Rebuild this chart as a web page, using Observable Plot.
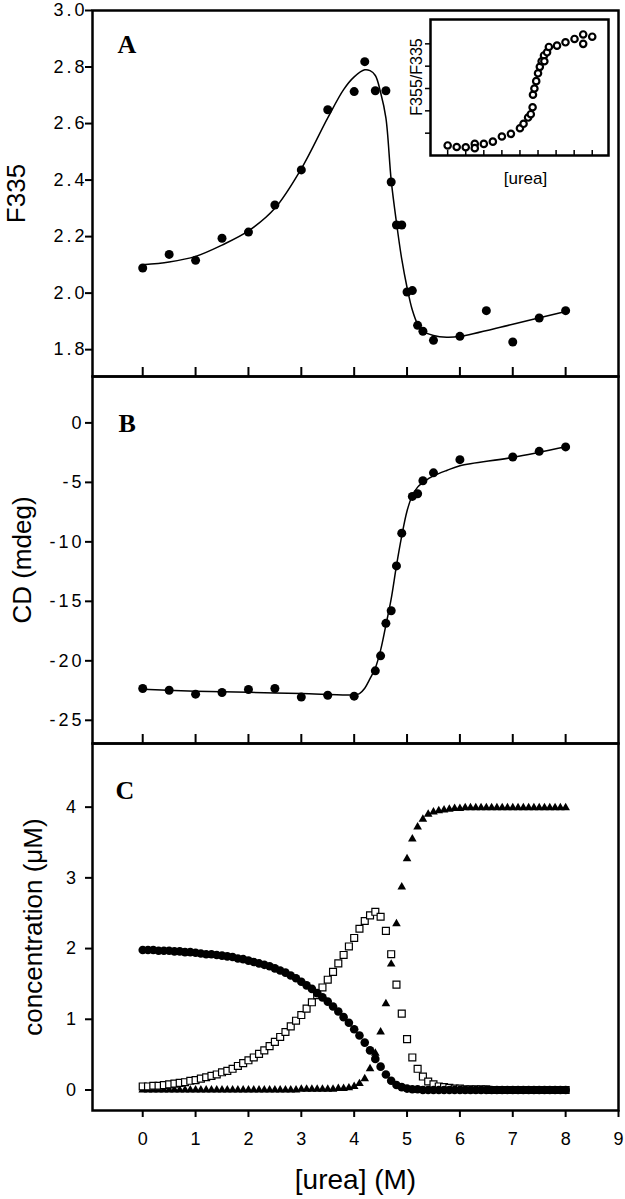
<!DOCTYPE html>
<html>
<head>
<meta charset="utf-8">
<script src="https://cdn.jsdelivr.net/npm/d3@7"></script>
<script src="https://cdn.jsdelivr.net/npm/@observablehq/plot@0.6"></script>
<style>
html, body { margin: 0; padding: 0; background: #fff; }
#wrap { position: relative; width: 625px; height: 1199px; overflow: hidden; background: #fff; }
g[aria-label="y-axis tick label"] text { letter-spacing: 3px; }
g[aria-label="y-title"] text { letter-spacing: 2.5px; }
g[aria-label="x-title"] text { letter-spacing: 1.5px; }
</style>
</head>
<body>
<div id="wrap"></div>
<script>
// ---------- data ----------
// Panel A: F335 vs [urea]
const aX = [0, 0.5, 1, 1.5, 2, 2.5, 3, 3.5, 4, 4.2, 4.4, 4.6, 4.7, 4.8, 4.9, 5.0, 5.1, 5.2, 5.3, 5.5, 6, 6.5, 7, 7.5, 8];
const aY = [2.089, 2.137, 2.116, 2.194, 2.216, 2.312, 2.436, 2.649, 2.713, 2.819, 2.716, 2.716, 2.393, 2.241, 2.241, 2.004, 2.009, 1.886, 1.865, 1.833, 1.847, 1.938, 1.827, 1.912, 1.938];
const aFitX = [0, 0.5, 1, 1.5, 2, 2.5, 3, 3.5, 3.8, 4.0, 4.2, 4.3, 4.4, 4.5, 4.6, 4.7, 4.8, 4.9, 5.0, 5.1, 5.2, 5.3, 5.5, 5.75, 6, 7, 8];
const aFitY = [2.10, 2.11, 2.13, 2.17, 2.22, 2.30, 2.44, 2.62, 2.72, 2.765, 2.79, 2.787, 2.77, 2.71, 2.62, 2.40, 2.25, 2.12, 2.02, 1.94, 1.89, 1.865, 1.85, 1.844, 1.847, 1.89, 1.935];
const aYTicks = [1.8, 2.0, 2.2, 2.4, 2.6, 2.8, 3.0];

// Inset: F355/F335 vs [urea] (tick units)
const insX = [0, 0.5, 1.0, 1.5, 1.5, 2.0, 2.5, 3.0, 3.5, 4.0, 4.2, 4.45, 4.6, 4.7, 4.72, 4.8, 4.9, 5.0, 5.1, 5.2, 5.33, 5.35, 5.5, 5.6, 6.05, 6.52, 7.02, 7.5, 7.5, 8.0];
const insY = [0.45, 0.38, 0.37, 0.52, 0.33, 0.52, 0.62, 0.85, 0.97, 1.22, 1.42, 1.70, 1.85, 2.16, 2.72, 3.0, 3.33, 3.68, 3.97, 4.22, 4.48, 4.22, 4.62, 4.86, 4.92, 5.07, 5.22, 5.42, 5.0, 5.32];
const insXTicks = [0, 1, 2, 3, 4, 5, 6, 7, 8];
const insYTicks = [1, 2, 3, 4, 5];

// Panel B: CD vs [urea]
const bX = [0, 0.5, 1, 1.5, 2, 2.5, 3, 3.5, 4, 4.4, 4.5, 4.6, 4.7, 4.8, 4.9, 5.1, 5.2, 5.3, 5.5, 6, 7, 7.5, 8];
const bY = [-22.33, -22.47, -22.8, -22.66, -22.41, -22.33, -23.05, -22.89, -22.97, -20.84, -19.58, -16.85, -15.79, -12.02, -9.27, -6.18, -5.96, -4.86, -4.2, -3.09, -2.87, -2.39, -2.02];
const bFitX = [0, 1, 2, 3, 4, 4.1, 4.2, 4.3, 4.4, 4.5, 4.6, 4.7, 4.8, 4.9, 5.0, 5.1, 5.2, 5.3, 5.4, 5.5, 5.75, 6, 7, 8];
const bFitY = [-22.4, -22.55, -22.65, -22.75, -22.85, -22.75, -22.3, -21.5, -20.6, -19.1, -17.0, -14.8, -12.0, -9.5, -7.4, -6.1, -5.4, -5.0, -4.7, -4.45, -4.0, -3.6, -2.9, -2.0];
const bYTicks = [0, -5, -10, -15, -20, -25];

// Panel C: species concentrations vs [urea]
const cX = [0, 0.1, 0.2, 0.3, 0.4, 0.5, 0.6, 0.7, 0.8, 0.9, 1.0, 1.1, 1.2, 1.3, 1.4, 1.5, 1.6, 1.7, 1.8, 1.9, 2.0, 2.1, 2.2, 2.3, 2.4, 2.5, 2.6, 2.7, 2.8, 2.9, 3.0, 3.1, 3.2, 3.3, 3.4, 3.5, 3.6, 3.7, 3.8, 3.9, 4.0, 4.1, 4.2, 4.3, 4.4, 4.5, 4.6, 4.7, 4.8, 4.9, 5.0, 5.1, 5.2, 5.3, 5.4, 5.5, 5.6, 5.7, 5.8, 5.9, 6.0, 6.1, 6.2, 6.3, 6.4, 6.5, 6.6, 6.7, 6.8, 6.9, 7.0, 7.1, 7.2, 7.3, 7.4, 7.5, 7.6, 7.7, 7.8, 7.9, 8.0];
const cNative = [1.98, 1.98, 1.98, 1.97, 1.97, 1.97, 1.96, 1.96, 1.95, 1.95, 1.94, 1.93, 1.92, 1.92, 1.91, 1.90, 1.89, 1.88, 1.86, 1.85, 1.83, 1.81, 1.79, 1.77, 1.75, 1.72, 1.69, 1.66, 1.62, 1.58, 1.53, 1.48, 1.43, 1.37, 1.31, 1.25, 1.18, 1.11, 1.03, 0.95, 0.86, 0.77, 0.67, 0.56, 0.44, 0.33, 0.22, 0.13, 0.07, 0.04, 0.02, 0.01, 0.01, 0, 0, 0, 0, 0, 0, 0, 0, 0, 0, 0, 0, 0, 0, 0, 0, 0, 0, 0, 0, 0, 0, 0, 0, 0, 0, 0, 0];
const cInter = [0.05, 0.05, 0.06, 0.06, 0.07, 0.08, 0.09, 0.10, 0.11, 0.13, 0.14, 0.16, 0.18, 0.20, 0.22, 0.25, 0.27, 0.30, 0.34, 0.38, 0.42, 0.46, 0.51, 0.56, 0.62, 0.68, 0.75, 0.82, 0.90, 0.98, 1.06, 1.15, 1.24, 1.34, 1.45, 1.56, 1.67, 1.79, 1.91, 2.03, 2.15, 2.28, 2.39, 2.47, 2.52, 2.45, 2.25, 1.92, 1.49, 1.08, 0.72, 0.46, 0.30, 0.19, 0.12, 0.08, 0.05, 0.04, 0.03, 0.02, 0.02, 0.01, 0.01, 0.01, 0.01, 0.01, 0, 0, 0, 0, 0, 0, 0, 0, 0, 0, 0, 0, 0, 0, 0];
const cUnf = [0, 0, 0, 0, 0, 0, 0, 0, 0, 0, 0, 0, 0, 0, 0, 0, 0, 0, 0, 0, 0, 0, 0, 0, 0, 0, 0, 0, 0, 0, 0.01, 0.01, 0.01, 0.01, 0.01, 0.01, 0.01, 0.02, 0.02, 0.03, 0.05, 0.09, 0.16, 0.30, 0.52, 0.82, 1.22, 1.78, 2.35, 2.87, 3.27, 3.55, 3.72, 3.83, 3.90, 3.93, 3.95, 3.96, 3.97, 3.98, 3.98, 3.99, 3.99, 3.99, 3.99, 3.99, 3.99, 3.99, 3.99, 3.99, 3.99, 3.99, 3.99, 3.99, 3.99, 3.99, 3.99, 3.99, 3.99, 3.99, 3.99];
const cYTicks = [0, 1, 2, 3, 4];

const xTicksInner = [0, 1, 2, 3, 4, 5, 6, 7, 8];
const xTicksBottom = [0, 1, 2, 3, 4, 5, 6, 7, 8, 9];
const panelLetters = ["A", "B", "C"];
const yTitles = ["F335", "CD (mdeg)", "concentration (\u03bcM)"];
const xTitle = "[urea] (M)";
const insetTitles = ["F355/F335", "[urea]"];

// ---------- build ----------
const SANS = "'Liberation Sans', Arial, Helvetica, sans-serif";
const SERIF = "'Liberation Serif', 'Times New Roman', serif";
const xDomain = [-0.95, 9];
const zip = (xs, ys) => xs.map((x, i) => ({x, y: ys[i]}));
const aPts = zip(aX, aY), aFit = zip(aFitX, aFitY);
const bPts = zip(bX, bY), bFit = zip(bFitX, bFitY);
const insPts = zip(insX, insY);
const cData = cX.map((x, i) => ({x, n: cNative[i], i: cInter[i], u: cUnf[i]}));

function sty(top, left) {
  return {position: "absolute", top: top + "px", left: left + "px", overflow: "visible",
    background: "transparent", fontFamily: SANS, fontSize: "18px", color: "black"};
}
const common = {width: 625, marginLeft: 92, marginRight: 7, x: {domain: xDomain}};
const letterOpts = (dx, dy) => ({frameAnchor: "top-left", dx, dy, lineAnchor: "bottom", textAnchor: "start",
  fontFamily: SERIF, fontWeight: "bold", fontSize: 26, fill: "black"});
const yTitleOpts = (dx) => ({frameAnchor: "left", rotate: -90, dx, textAnchor: "middle", lineAnchor: "middle",
  fontSize: 26, fill: "black", ariaLabel: "y-title"});

const plotA = Plot.plot({
  ...common, height: 380, marginTop: 10, marginBottom: 4,
  y: {domain: [1.705, 3.0]},
  style: sty(0, 0),
  marks: [
    Plot.frame({strokeWidth: 2.5}),
    Plot.axisY(aYTicks, {anchor: "left", tickSize: 7, tickPadding: -2, strokeWidth: 2, fontSize: 18, tickFormat: d3.format(".1f"), label: null}),
    Plot.axisX(xTicksInner, {anchor: "bottom", tickSize: -9, strokeWidth: 2, tickFormat: () => "", label: null}),
    Plot.line(aFit, {x: "x", y: "y", curve: "catmull-rom", stroke: "black", strokeWidth: 1.5}),
    Plot.dot(aPts, {x: "x", y: "y", r: 4.5, fill: "black"}),
    Plot.text([yTitles[0]], {...yTitleOpts(-76), text: d => d}),
    Plot.text([panelLetters[0]], {...letterOpts(25, 42.7), text: d => d})
  ]
});

const inset = Plot.plot({
  width: 215, height: 200, marginLeft: 30, marginRight: 7, marginTop: 19, marginBottom: 45,
  x: {domain: [-0.95, 8.9]}, y: {domain: [0, 6.09]},
  style: sty(0, 400),
  marks: [
    Plot.frame({strokeWidth: 2.5}),
    Plot.axisY(insYTicks, {anchor: "left", tickSize: 5, strokeWidth: 1.5, tickFormat: () => "", label: null}),
    Plot.axisX(insXTicks, {anchor: "bottom", tickSize: -5, strokeWidth: 1.5, tickFormat: () => "", label: null}),
    Plot.dot(insPts, {x: "x", y: "y", r: 3.2, stroke: "black", strokeWidth: 2.2, fill: "white"}),
    Plot.text([insetTitles[0]], {frameAnchor: "left", rotate: -90, dx: -14, dy: -10.5, textAnchor: "middle", lineAnchor: "middle", fontSize: 16, fill: "black", text: d => d}),
    Plot.text([insetTitles[1]], {frameAnchor: "bottom", dx: 6, dy: 23, textAnchor: "middle", lineAnchor: "middle", fontSize: 17, fill: "black", text: d => d})
  ]
});

const plotB = Plot.plot({
  ...common, height: 375, marginTop: 4, marginBottom: 4,
  y: {domain: [-26.95, 3.9]},
  style: sty(372, 0),
  marks: [
    Plot.frame({strokeWidth: 2.5}),
    Plot.axisY(bYTicks, {anchor: "left", tickSize: 7, tickPadding: 1, strokeWidth: 2, fontSize: 18, tickFormat: d => String(d), label: null}),
    Plot.axisX(xTicksInner, {anchor: "bottom", tickSize: -9, strokeWidth: 2, tickFormat: () => "", label: null}),
    Plot.line(bFit, {x: "x", y: "y", curve: "catmull-rom", stroke: "black", strokeWidth: 1.5}),
    Plot.dot(bPts, {x: "x", y: "y", r: 4.5, fill: "black"}),
    Plot.text([yTitles[1]], {...yTitleOpts(-69.5), text: d => d}),
    Plot.text([panelLetters[1]], {...letterOpts(26, 55.7), text: d => d})
  ]
});

const plotC = Plot.plot({
  ...common, height: 460, marginTop: 4, marginBottom: 89,
  y: {domain: [-0.29, 4.9]},
  style: sty(739, 0),
  marks: [
    Plot.frame({strokeWidth: 2.5}),
    Plot.axisY(cYTicks, {anchor: "left", tickSize: 7, tickPadding: 6.5, strokeWidth: 2, fontSize: 18, tickFormat: d => String(d), label: null}),
    Plot.axisX(xTicksBottom, {anchor: "bottom", tickSize: 7, tickPadding: 15, strokeWidth: 2, fontSize: 18, tickFormat: d => String(d), label: null}),
    Plot.dot(cData, {x: "x", y: "u", symbol: "triangle", r: 3.2, fill: "black"}),
    Plot.dot(cData, {x: "x", y: "i", symbol: "square", r: 3.9, stroke: "black", strokeWidth: 1.2, fill: "white"}),
    Plot.dot(cData, {x: "x", y: "n", symbol: "circle", r: 4.3, fill: "black"}),
    Plot.text([yTitles[2]], {...yTitleOpts(-58.5), text: d => d}),
    Plot.text([xTitle], {frameAnchor: "bottom", dy: 78, textAnchor: "middle", lineAnchor: "bottom", fontSize: 28, fill: "black", ariaLabel: "x-title", text: d => d}),
    Plot.text([panelLetters[2]], {...letterOpts(23, 55.3), text: d => d})
  ]
});

const wrap = document.getElementById("wrap");
wrap.append(plotA, plotB, plotC, inset);
</script>
</body>
</html>
